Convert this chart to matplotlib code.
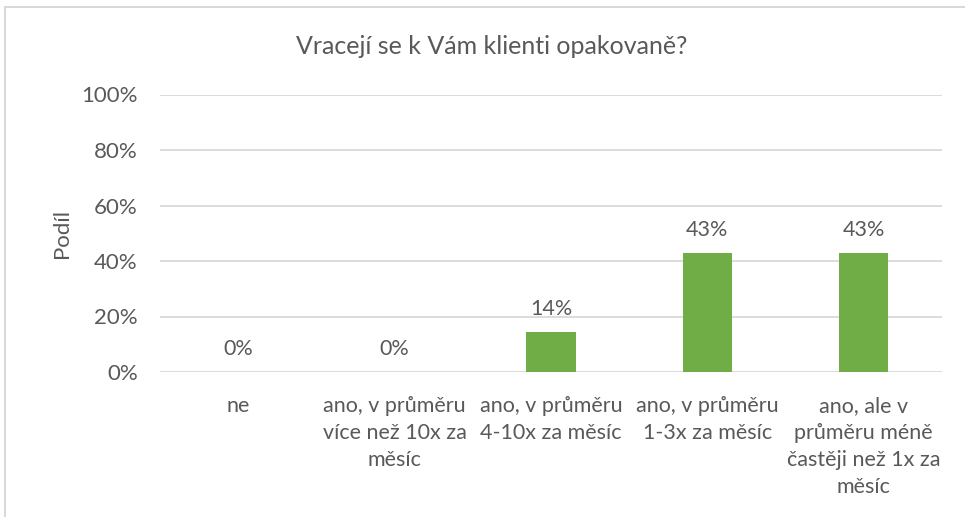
import matplotlib
matplotlib.use("Agg")
import matplotlib.pyplot as plt
from matplotlib.patches import Rectangle
from matplotlib.ticker import PercentFormatter

categories = [
    "ne",
    "ano, v průměru\nvíce než 10x za\nměsíc",
    "ano, v průměru\n4-10x za měsíc",
    "ano, v průměru\n1-3x za měsíc",
    "ano, ale v\nprůměru méně\nčastěji než 1x za\nměsíc",
]
shares = [0.0, 0.0, 1 / 7, 3 / 7, 3 / 7]
value_labels = ["0%", "0%", "14%", "43%", "43%"]
y_ticks = [0, 0.2, 0.4, 0.6, 0.8, 1.0]

plt.rcParams["font.family"] = ["Lato", "DejaVu Sans"]
text_color = "#595959"
grid_color = "#D9D9D9"
bar_color = "#70AD47"

fig = plt.figure(figsize=(9.65, 5.17), dpi=100)

# chart frame (runs off right/bottom edge like the screenshot)
fig.patches.append(Rectangle((5 / 965, -0.1), 1.1, (517 - 7) / 517 + 0.1,
                             transform=fig.transFigure, fill=False,
                             edgecolor="#D9D9D9", linewidth=1.5))

ax = fig.add_axes([160 / 965, (517 - 372) / 517, 782 / 965, 277.5 / 517])
x = list(range(len(categories)))
ax.bar(x, shares, width=0.315, color=bar_color, zorder=3)

for xi, v, lab in zip(x, shares, value_labels):
    ax.annotate(lab, (xi, v), xytext=(0, 9.5), textcoords="offset points",
                ha="center", va="bottom", fontsize=15.5, color=text_color)

ax.set_xlim(-0.5, len(categories) - 0.5)
ax.set_ylim(0, 1)
ax.set_yticks(y_ticks)
ax.yaxis.set_major_formatter(PercentFormatter(1.0, decimals=0))
ax.set_xticks(x)
ax.set_xticklabels(categories, fontsize=15.5, color=text_color, linespacing=1.45)
ax.tick_params(axis="x", length=0, pad=17)
ax.tick_params(axis="y", length=0, pad=16, labelsize=16, labelcolor=text_color)
ax.grid(axis="y", color=grid_color, linewidth=1.3, zorder=0)
for s in ax.spines.values():
    s.set_visible(False)

ax.set_ylabel("Podíl", fontsize=16, color=text_color)
ax.yaxis.set_label_coords((72 - 160) / 782, 0.5)
fig.text(492 / 965, 1 - 47 / 517, "Vracejí se k Vám klienti opakovaně?",
         ha="center", va="center", fontsize=18, color=text_color)

fig.savefig("out.png", dpi=100)
